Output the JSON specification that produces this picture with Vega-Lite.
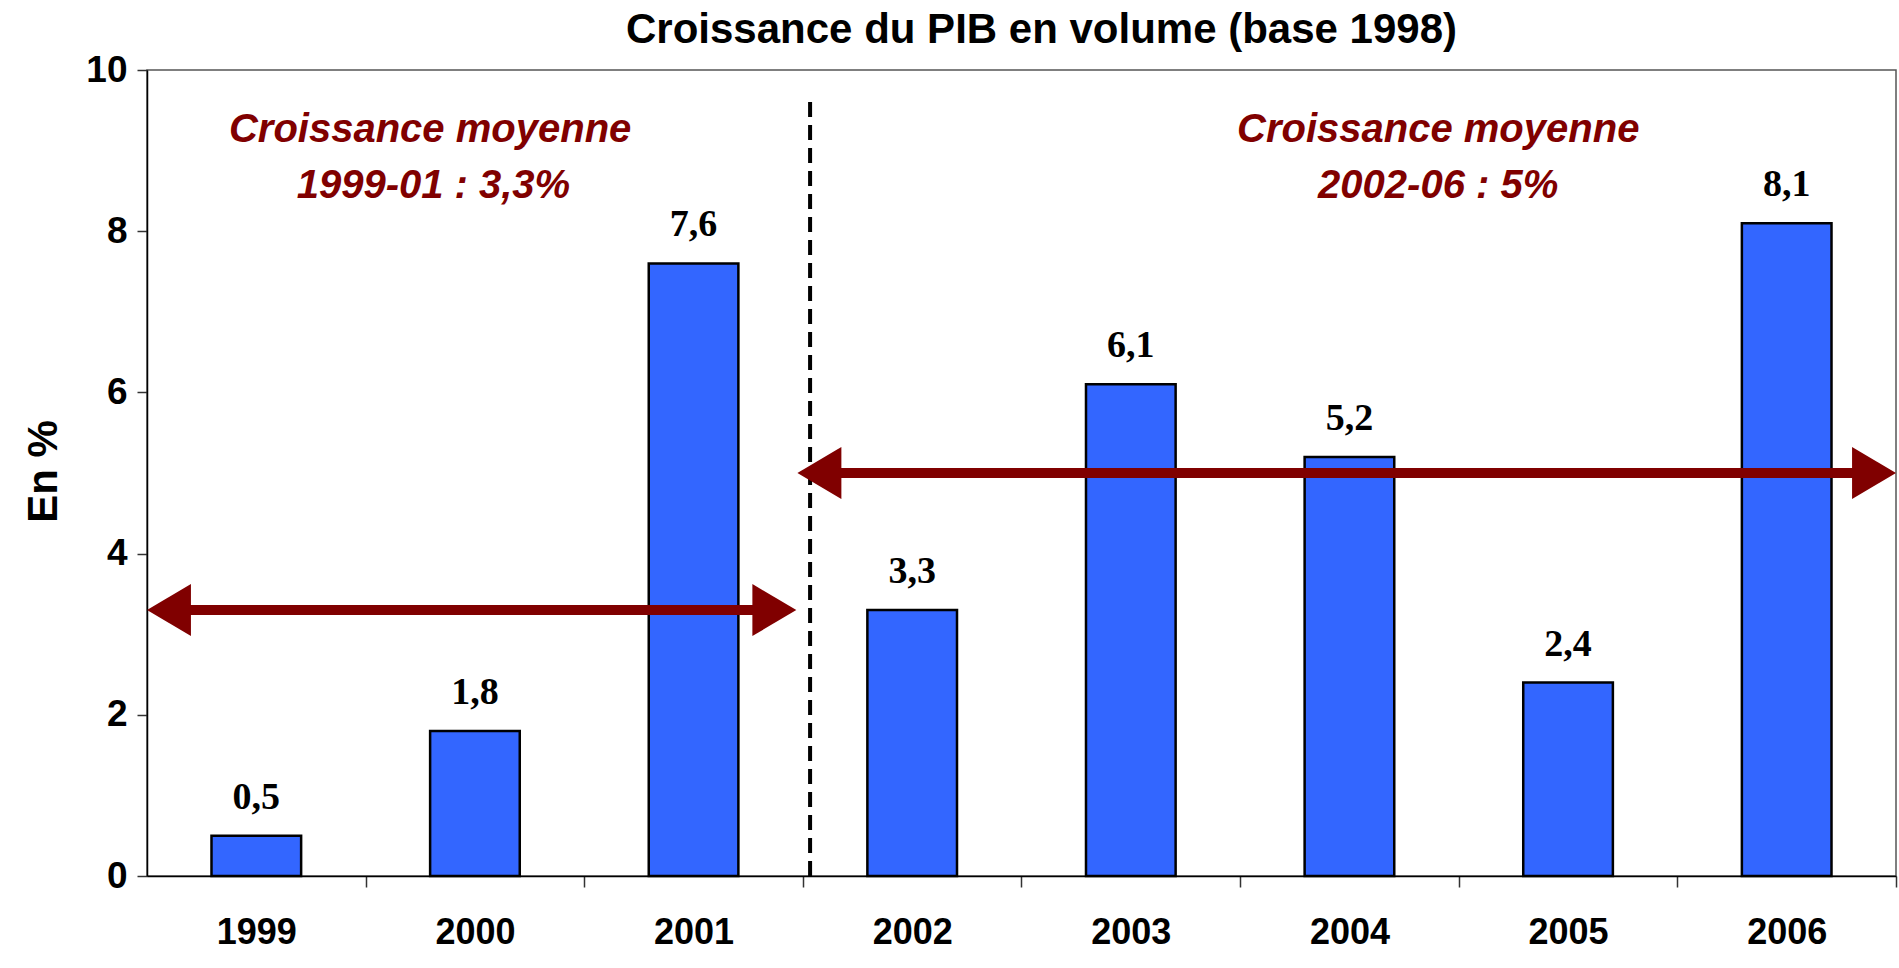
{
  "$schema": "https://vega.github.io/schema/vega-lite/v6.json",
  "autosize": "none",
  "width": 1749,
  "height": 806,
  "padding": {"left": 147, "top": 70, "right": 3, "bottom": 92},
  "background": "white",
  "title": {
    "text": "Croissance du PIB en volume (base 1998)",
    "font": "Liberation Sans",
    "fontWeight": "bold",
    "fontSize": 42,
    "color": "black",
    "anchor": "middle",
    "frame": "group",
    "baseline": "bottom",
    "offset": 14,
    "dx": 20,
    "dy": 57
  },
  "datasets": {
    "bars": [
      {"year": "1999", "value": 0.5},
      {"year": "2000", "value": 1.8},
      {"year": "2001", "value": 7.6},
      {"year": "2002", "value": 3.3},
      {"year": "2003", "value": 6.1},
      {"year": "2004", "value": 5.2},
      {"year": "2005", "value": 2.4},
      {"year": "2006", "value": 8.1}
    ],
    "arrows": [
      {"start": 0.15, "end": 2.8, "value": 3.3},
      {"start": 3.15, "end": 7.85, "value": 5.0}
    ],
    "heads": [
      {"pos": 0.0, "value": 3.3, "dir": "left"},
      {"pos": 2.97, "value": 3.3, "dir": "right"},
      {"pos": 2.975, "value": 5.0, "dir": "left"},
      {"pos": 8.0, "value": 5.0, "dir": "right"}
    ],
    "divider": [
      {"pos": 3.033, "value": 0, "value2": 9.665}
    ],
    "notes": [
      {"pos": 1.295, "value": 9.107, "text": "Croissance moyenne"},
      {"pos": 1.31, "value": 8.412, "text": "1999-01 : 3,3%"},
      {"pos": 5.906, "value": 9.107, "text": "Croissance moyenne"},
      {"pos": 5.906, "value": 8.412, "text": "2002-06 : 5%"}
    ]
  },
  "layer": [
    {
      "data": {"name": "bars"},
      "encoding": {
        "x": {
          "field": "year",
          "type": "ordinal",
          "scale": {"paddingInner": 0.59, "paddingOuter": 0.295},
          "axis": {
            "title": null,
            "labelAngle": 0,
            "labelFont": "Liberation Sans",
            "labelFontWeight": "bold",
            "labelFontSize": 36,
            "labelColor": "black",
            "labelPadding": 28,
            "tickOffset": 109.3,
            "labelOffset": -109.3,
            "tickSize": 11,
            "tickColor": "#333333",
            "tickWidth": 1.5,
            "domainColor": "black",
            "domainWidth": 1.5
          }
        },
        "y": {
          "field": "value",
          "type": "quantitative",
          "scale": {"domain": [0, 10], "nice": false, "zero": true},
          "axis": {
            "title": "En %",
            "titleFont": "Liberation Sans",
            "titleFontWeight": "bold",
            "titleFontSize": 42,
            "titleColor": "black",
            "titleX": -104,
            "titleY": 401,
            "titleAlign": "center",
            "titleBaseline": "middle",
            "titleAngle": -90,
            "values": [0, 2, 4, 6, 8, 10],
            "format": "d",
            "grid": false,
            "labelFont": "Liberation Sans",
            "labelFontWeight": "bold",
            "labelFontSize": 37,
            "labelColor": "black",
            "labelPadding": 10,
            "tickSize": 10,
            "tickColor": "#333333",
            "tickWidth": 1.5,
            "domainColor": "black",
            "domainWidth": 1.5
          }
        }
      },
      "layer": [
        {
          "mark": {"type": "bar", "fill": "#3366FF", "stroke": "black", "strokeWidth": 2.5}
        },
        {
          "mark": {
            "type": "text",
            "baseline": "alphabetic",
            "align": "center",
            "dy": -27,
            "font": "Liberation Serif",
            "fontWeight": "bold",
            "fontSize": 38,
            "fill": "black"
          },
          "encoding": {
            "text": {"field": "value", "type": "quantitative", "format": ".1f"}
          }
        }
      ]
    },
    {
      "layer": [
        {
          "data": {"name": "divider"},
          "mark": {"type": "rule", "stroke": "black", "strokeWidth": 4, "strokeDash": [15, 8]},
          "encoding": {
            "x": {"field": "pos", "type": "quantitative", "scale": {"domain": [0, 8], "nice": false, "zero": false}, "axis": null},
            "y": {"field": "value", "type": "quantitative"},
            "y2": {"field": "value2"}
          }
        },
        {
          "data": {"name": "arrows"},
          "mark": {"type": "rule", "stroke": "#800000", "strokeWidth": 10},
          "encoding": {
            "x": {"field": "start", "type": "quantitative", "scale": {"domain": [0, 8], "nice": false, "zero": false}, "axis": null},
            "x2": {"field": "end"},
            "y": {"field": "value", "type": "quantitative"}
          }
        },
        {
          "data": {"name": "heads"},
          "mark": {"type": "point", "filled": true, "fill": "#800000", "opacity": 1, "size": 2704, "strokeWidth": 0},
          "encoding": {
            "x": {"field": "pos", "type": "quantitative", "scale": {"domain": [0, 8], "nice": false, "zero": false}, "axis": null},
            "y": {"field": "value", "type": "quantitative"},
            "shape": {
              "field": "dir",
              "type": "nominal",
              "scale": {"domain": ["left", "right"], "range": ["M0,0L1.69,-1L1.69,1Z", "M0,0L-1.69,-1L-1.69,1Z"]},
              "legend": null
            }
          }
        },
        {
          "data": {"name": "notes"},
          "mark": {
            "type": "text",
            "align": "center",
            "baseline": "alphabetic",
            "font": "Liberation Sans",
            "fontWeight": "bold",
            "fontStyle": "italic",
            "fontSize": 40,
            "fill": "#800000"
          },
          "encoding": {
            "x": {"field": "pos", "type": "quantitative", "scale": {"domain": [0, 8], "nice": false, "zero": false}, "axis": null},
            "y": {"field": "value", "type": "quantitative"},
            "text": {"field": "text"}
          }
        }
      ]
    }
  ],
  "resolve": {"scale": {"x": "independent"}},
  "config": {
    "locale": {
      "number": {"decimal": ",", "thousands": " ", "grouping": [3], "currency": ["", " €"]}
    },
    "view": {"stroke": "#555555", "strokeWidth": 1.5}
  }
}
